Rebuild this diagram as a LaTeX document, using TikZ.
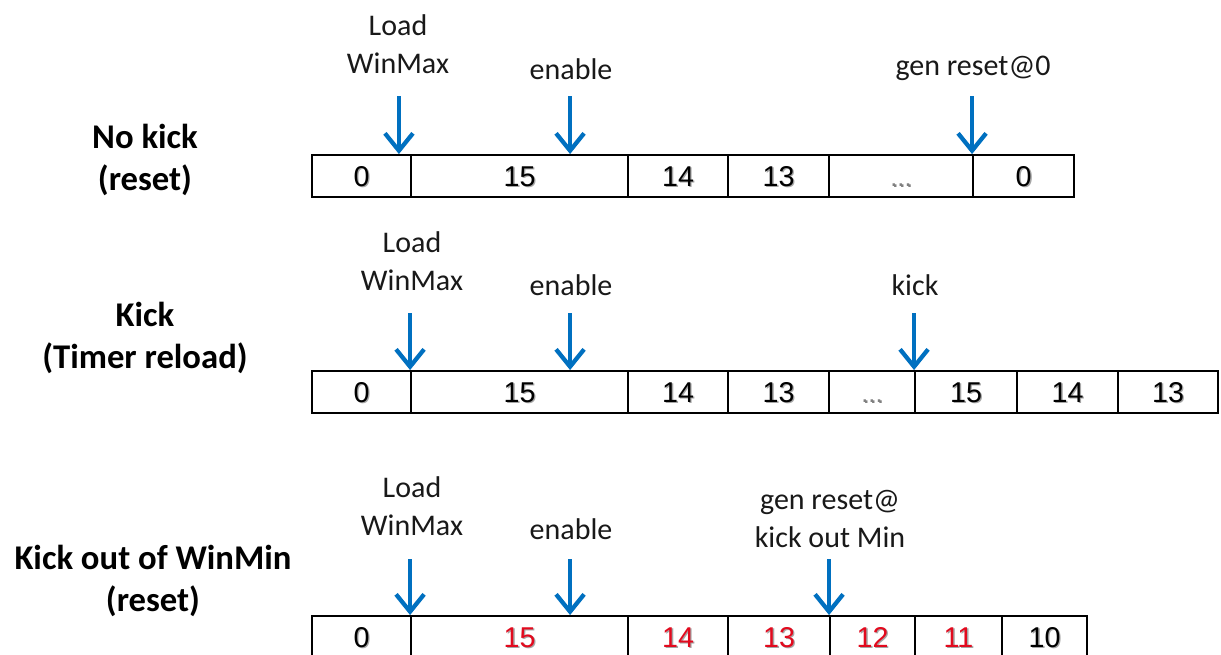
\documentclass[tikz,border=0pt]{standalone}
\usepackage{fontspec}
\setmainfont{Carlito}
\newfontfamily\cellfont{Liberation Sans}
\usetikzlibrary{arrows.meta}
\definecolor{sigblue}{RGB}{0,112,192}
\definecolor{cntred}{RGB}{226,10,30}
% counter value with a soft drop shadow
\newcommand{\shadenum}[1]{\makebox[0pt][l]{\kern1.1pt\raisebox{-1.1pt}{\color{black!35}#1}}#1}
\newcommand{\gapdots}{{\fontsize{19}{19}\selectfont\color{black!50}...}}
\tikzset{
  cell/.style={draw,line width=1.4pt,inner sep=0pt,minimum height=31.5pt,
    text height=15.4pt,text depth=0pt,font=\cellfont\fontsize{21.5}{21.5}\selectfont},
  lbl/.style={align=center,inner sep=0pt,font=\fontsize{22.5}{28.5}\selectfont,text=black!90},
  rowlbl/.style={align=center,inner sep=0pt,font=\bfseries\fontsize{26}{31.5}\selectfont},
  sig/.style={draw=sigblue,line width=3.2pt,-{Straight Barb[length=13pt,width=21pt]}}
}
\begin{document}
\begin{tikzpicture}[x=0.75pt,y=-0.75pt,line join=miter]
\useasboundingbox (0,0) rectangle (1221,655);
\fill[white] (0,0) rectangle (1221,655);
\clip (0,0) rectangle (1221,655);

\node[rowlbl] (nokick) at (145,160) {No kick\\(reset)};
\node[rowlbl] (kick) at (145,338) {Kick\\(Timer reload)};
\node[rowlbl] (kickout) at (153,581) {Kick out of WinMin\\(reset)};

% no kick
\foreach \a/\b/\t [count=\i] in {312/411/0,411/628/15,628/728/14,728/829/13,829/973/\gapdots,973/1074/0}
  \node[cell,minimum width={(\b-\a)*0.75pt}] (r1c\i) at ({(\a+\b)/2},176) {\shadenum{\t}};
\node[lbl] (r1load) at (398,44) {Load\\WinMax};
\node[lbl] (r1en) at (571,69) {enable};
\node[lbl] (r1rst) at (973,68) {gen reset@0};
\draw[sig] ([xshift=-9.75pt,yshift=43.5pt]r1c1.north east) -- ([xshift=-9.75pt]r1c1.north east);
\draw[sig] ([xshift=120pt,yshift=43.5pt]r1c2.north west) -- ([xshift=120pt]r1c2.north west);
\draw[sig] ([yshift=43.5pt]r1c6.north west) -- (r1c6.north west);

% kick
\foreach \a/\b/\t [count=\i] in {312/411/0,411/628/15,628/728/14,728/829/13,829/915/\gapdots,915/1017/15,1017/1118/14,1118/1218/13}
  \node[cell,minimum width={(\b-\a)*0.75pt}] (r2c\i) at ({(\a+\b)/2},392) {\shadenum{\t}};
\node[lbl] (r2load) at (412,261) {Load\\WinMax};
\node[lbl] (r2en) at (571,285) {enable};
\node[lbl] (r2kick) at (915,285) {kick};
\draw[sig] ([yshift=42.75pt]r2c2.north west) -- (r2c2.north west);
\draw[sig] ([xshift=120pt,yshift=42.75pt]r2c2.north west) -- ([xshift=120pt]r2c2.north west);
\draw[sig] ([yshift=42.75pt]r2c6.north west) -- (r2c6.north west);

% kick out of window
\foreach \a/\b/\t/\c [count=\i] in {312/411/0/black,411/628/15/cntred,628/728/14/cntred,728/830/13/cntred,830/915/12/cntred,915/1002/11/cntred,1002/1087/10/black}
  \node[cell,text=\c,minimum width={(\b-\a)*0.75pt}] (r3c\i) at ({(\a+\b)/2},637) {\shadenum{\t}};
\node[lbl] (r3load) at (412,506) {Load\\WinMax};
\node[lbl] (r3en) at (571,529) {enable};
\node[lbl] (r3rst) at (830,519) {gen reset@\\kick out Min};
\draw[sig] ([yshift=42pt]r3c2.north west) -- (r3c2.north west);
\draw[sig] ([xshift=120pt,yshift=42pt]r3c2.north west) -- ([xshift=120pt]r3c2.north west);
\draw[sig] ([yshift=42pt]r3c5.north west) -- (r3c5.north west);
\end{tikzpicture}
\end{document}
